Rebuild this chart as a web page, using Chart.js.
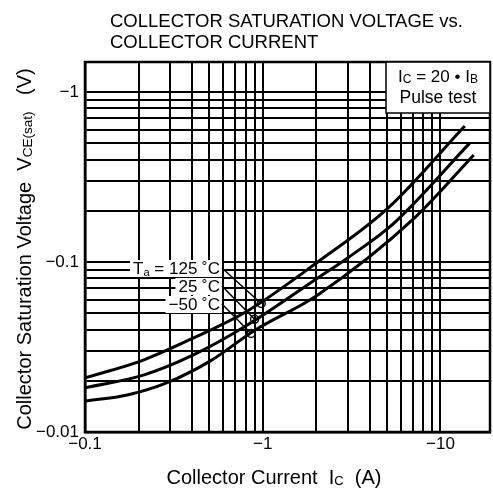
<!DOCTYPE html>
<html>
<head>
<meta charset="utf-8">
<script src="https://cdn.jsdelivr.net/npm/chart.js@4.4.0/dist/chart.umd.min.js"></script>
<style>
  html, body { margin: 0; padding: 0; background: #fff; }
</style>
</head>
<body>
<canvas id="satChart" width="493" height="497"></canvas>
<script>
// collector current |Ic| (A) and saturation voltage |Vce(sat)| (V)
const ic125 = [0.1, 0.213, 0.407, 0.82, 2.04, 5.08, 13.7];
const vce125 = [0.0208, 0.0265, 0.0357, 0.0515, 0.1, 0.208, 0.63];

const ic25 = [0.1, 0.213, 0.407, 0.82, 2.04, 3.02, 5.5, 14.6];
const vce25 = [0.0182, 0.0216, 0.0284, 0.0426, 0.0805, 0.106, 0.17, 0.5];

const icM50 = [0.1, 0.173, 0.29, 0.508, 0.89, 2.04, 7.13, 15.4];
const vceM50 = [0.0152, 0.0165, 0.0195, 0.0262, 0.0393, 0.064, 0.181, 0.426];

// grid lines and labelled decades
const xGrid = [0.1, 0.2, 0.3, 0.4, 0.5, 0.6, 0.7, 0.8, 0.9, 1, 2, 3, 4, 5, 6, 7, 8, 9, 10];
const yGrid = [0.01, 0.02, 0.03, 0.04, 0.05, 0.06, 0.07, 0.08, 0.09,
               0.1, 0.2, 0.3, 0.4, 0.5, 0.6, 0.7, 0.8, 0.9, 1];
const xLabels = [0.1, 1, 10];
const yLabels = [0.01, 0.1, 1];

const FONT = '"Liberation Sans", Arial, Helvetica, sans-serif';

function toPoints(xs, ys) {
    return xs.map((x, i) => ({ x: x, y: ys[i] }));
}

function isLabel(list, v) {
    return list.some(l => Math.abs(l - v) < 1e-9);
}

// draw a run of text pieces, some of them smaller and lowered (subscripts)
function richWidth(ctx, parts) {
    let w = 0;
    parts.forEach(p => {
        ctx.font = p.size + 'px ' + FONT;
        w += ctx.measureText(p.t).width;
    });
    return w;
}

function drawRich(ctx, parts, x, y) {
    ctx.textAlign = 'left';
    ctx.textBaseline = 'alphabetic';
    parts.forEach(p => {
        ctx.font = p.size + 'px ' + FONT;
        ctx.fillText(p.t, x, y + (p.dy || 0));
        x += ctx.measureText(p.t).width;
    });
}

const decorPlugin = {
    id: 'decor',
    afterDatasetsDraw(chart) {
        const ctx = chart.ctx;
        const area = chart.chartArea;
        const xs = chart.scales.x;
        const ys = chart.scales.y;
        ctx.save();
        ctx.fillStyle = '#000';
        ctx.strokeStyle = '#000';

        // frame round the plot
        ctx.lineWidth = 2.5;
        ctx.strokeRect(area.left, area.top, area.right - area.left, area.bottom - area.top);

        // title
        ctx.font = '18.5px ' + FONT;
        ctx.textAlign = 'left';
        ctx.fillText('COLLECTOR SATURATION VOLTAGE vs.', 110, 27);
        ctx.fillText('COLLECTOR CURRENT', 110, 48);

        // x axis title
        const xParts = [
            { t: 'Collector Current  I', size: 20 },
            { t: 'C', size: 13, dy: 1 },
            { t: '  (A)', size: 20 }
        ];
        drawRich(ctx, xParts, 274 - richWidth(ctx, xParts) / 2, 484);

        // y axis title, rotated
        const yParts = [
            { t: 'Collector Saturation Voltage  V', size: 20 },
            { t: 'CE(sat)', size: 13.5, dy: 1 },
            { t: '   (V)', size: 20 }
        ];
        ctx.save();
        ctx.translate(31, 249);
        ctx.rotate(-Math.PI / 2);
        drawRich(ctx, yParts, -richWidth(ctx, yParts) / 2, 0);
        ctx.restore();

        // condition box, top right
        const bx = 386, bTop = area.top, bw = area.right - 386, bh = 51;
        ctx.fillStyle = '#fff';
        ctx.fillRect(bx, bTop, bw, bh);
        ctx.lineWidth = 1.5;
        ctx.strokeRect(bx, bTop, bw, bh);
        ctx.fillStyle = '#000';
        const l1 = [
            { t: 'I', size: 17 },
            { t: 'C', size: 12, dy: 1 },
            { t: ' = 20 \u2022 I', size: 17 },
            { t: 'B', size: 12, dy: 1 }
        ];
        drawRich(ctx, l1, bx + bw / 2 - richWidth(ctx, l1) / 2, bTop + 20);
        ctx.font = '17.5px ' + FONT;
        ctx.textAlign = 'center';
        ctx.fillText('Pulse test', bx + bw / 2, bTop + 41);

        // temperature labels with leader lines
        const tags = [
            { parts: [{ t: 'T', size: 17 }, { t: 'a', size: 11, dy: 2 }, { t: ' = 125 \u02DAC', size: 17 }],
              base: 274, tx: 0.98, ty: 0.057 },
            { parts: [{ t: '25 \u02DAC', size: 17 }], base: 292, tx: 0.9, ty: 0.046 },
            { parts: [{ t: '\u221250 \u02DAC', size: 17 }], base: 310, tx: 0.86, ty: 0.038 }
        ];
        const rightEdge = 220;
        tags.forEach(tag => {
            const w = richWidth(ctx, tag.parts);
            ctx.fillStyle = '#fff';
            ctx.fillRect(rightEdge - w - 3, tag.base - 14, w + 5, 17);
            ctx.fillStyle = '#000';
            drawRich(ctx, tag.parts, rightEdge - w, tag.base);
            const px = xs.getPixelForValue(tag.tx);
            const py = ys.getPixelForValue(tag.ty);
            ctx.lineWidth = 1.5;
            ctx.beginPath();
            ctx.moveTo(rightEdge + 2, tag.base - 6);
            ctx.lineTo(px, py);
            ctx.stroke();
            ctx.beginPath();
            ctx.arc(px, py, 4, 0, Math.PI * 2);
            ctx.stroke();
        });
        ctx.restore();
    }
};

const lineStyle = {
    borderColor: '#000',
    borderWidth: 3,
    pointRadius: 0,
    fill: false,
    cubicInterpolationMode: 'monotone'
};

const ctx = document.getElementById('satChart').getContext('2d');
const satChart = new Chart(ctx, {
    type: 'line',
    data: {
        datasets: [
            Object.assign({ label: '125', data: toPoints(ic125, vce125) }, lineStyle),
            Object.assign({ label: '25', data: toPoints(ic25, vce25) }, lineStyle),
            Object.assign({ label: '-50', data: toPoints(icM50, vceM50) }, lineStyle)
        ]
    },
    options: {
        responsive: false,
        animation: false,
        layout: { padding: { top: 62, right: 3, left: 0, bottom: 0 } },
        plugins: {
            legend: { display: false },
            tooltip: { enabled: false }
        },
        scales: {
            x: {
                type: 'logarithmic',
                min: 0.1,
                max: 19,
                grid: { color: '#000', lineWidth: 2, drawTicks: false },
                border: { color: '#000', width: 2.5 },
                ticks: {
                    color: '#000',
                    font: { family: FONT, size: 17 },
                    padding: 2,
                    autoSkip: false,
                    maxRotation: 0,
                    callback: v => isLabel(xLabels, v) ? '\u2212' + v : ''
                },
                afterBuildTicks: s => { s.ticks = xGrid.map(v => ({ value: v })); },
                afterFit: s => { s.height = 65; }
            },
            y: {
                type: 'logarithmic',
                min: 0.01,
                max: 1.5,
                grid: { color: '#000', lineWidth: 2, drawTicks: false },
                border: { color: '#000', width: 2.5 },
                ticks: {
                    color: '#000',
                    font: { family: FONT, size: 17 },
                    padding: 6,
                    autoSkip: false,
                    callback: v => isLabel(yLabels, v) ? '\u2212' + v : ''
                },
                afterBuildTicks: s => { s.ticks = yGrid.map(v => ({ value: v })); },
                afterFit: s => { s.width = 85; }
            }
        }
    },
    plugins: [decorPlugin]
});
</script>
</body>
</html>
